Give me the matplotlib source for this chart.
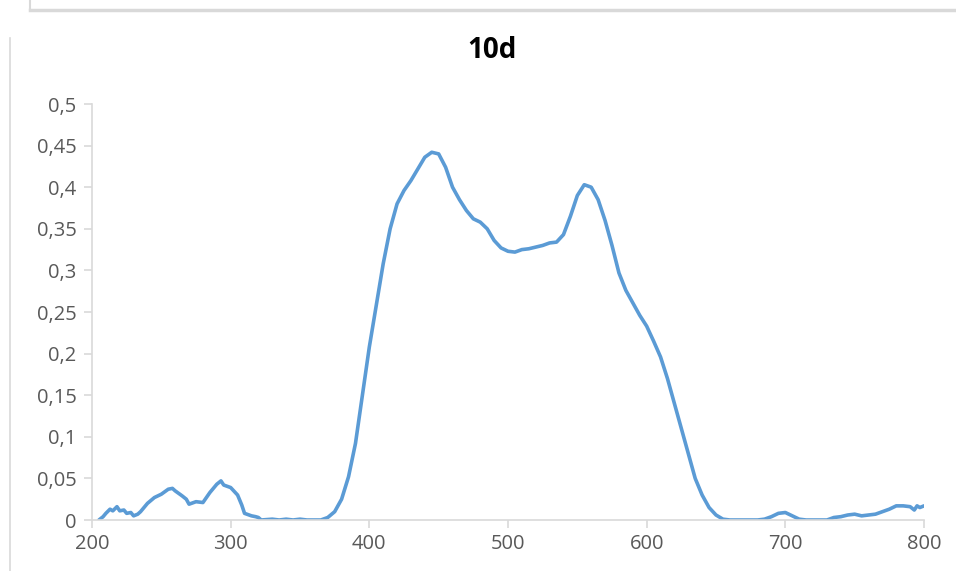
import numpy as np
import matplotlib
matplotlib.use('Agg')
import matplotlib.pyplot as plt
from matplotlib.lines import Line2D
from matplotlib.ticker import FuncFormatter

# Spectrum (wavelength, absorbance)
wavelength = [205, 208, 210, 213, 215, 218, 220, 223, 225, 228, 230, 233, 235, 240, 245, 250, 255,
              258, 260, 265, 268, 270, 275, 280, 285, 290, 293, 295, 300, 305, 308, 310, 315,
              318, 320, 322, 330, 335, 340, 345, 350, 355, 360, 365, 370, 375, 380, 385,
              390, 395, 400, 405, 410, 415, 420, 425, 430, 435, 440, 445, 450, 455, 460,
              465, 470, 475, 480, 485, 490, 495, 500, 505, 510, 515, 520, 525, 530, 535,
              540, 545, 550, 555, 560, 565, 570, 575, 580, 585, 590, 595, 600, 605, 610,
              615, 620, 625, 630, 635, 640, 645, 650, 655, 660, 670, 680, 685, 690, 695,
              700, 705, 710, 715, 720, 730, 735, 740, 745, 750, 755, 760, 765, 770, 775,
              780, 785, 790, 793, 795, 797, 800]
absorbance = [0.000, 0.004, 0.008, 0.013, 0.011, 0.016, 0.011, 0.012, 0.008, 0.009, 0.005, 0.007, 0.010,
              0.020, 0.027, 0.031, 0.037, 0.038, 0.035, 0.029, 0.025, 0.019, 0.022, 0.021, 0.033, 0.043, 0.047,
              0.042, 0.039, 0.030, 0.018, 0.008, 0.005, 0.004, 0.003, 0.000, 0.001, 0.000, 0.001, 0.000, 0.001,
              0.000, 0.000, 0.000, 0.003, 0.010, 0.025, 0.052, 0.092, 0.150, 0.208, 0.258, 0.308, 0.350,
              0.380, 0.396, 0.408, 0.422, 0.436, 0.442, 0.440, 0.424, 0.400, 0.385, 0.372, 0.362, 0.358,
              0.350, 0.336, 0.327, 0.323, 0.322, 0.325, 0.326, 0.328, 0.330, 0.333, 0.334, 0.343, 0.365,
              0.390, 0.403, 0.400, 0.385, 0.360, 0.330, 0.297, 0.276, 0.261, 0.246, 0.233, 0.215, 0.196,
              0.170, 0.140, 0.110, 0.080, 0.050, 0.030, 0.015, 0.006, 0.001, 0.000, 0.000, 0.000, 0.001,
              0.004, 0.008, 0.009, 0.005, 0.001, 0.000, 0.000, 0.000, 0.003, 0.004, 0.006, 0.007, 0.005,
              0.006, 0.007, 0.010, 0.013, 0.017, 0.017, 0.016, 0.012, 0.017, 0.015, 0.017]

x_ticks = [200, 300, 400, 500, 600, 700, 800]
y_ticks = [0, 0.05, 0.1, 0.15, 0.2, 0.25, 0.3, 0.35, 0.4, 0.45, 0.5]
title = '10d'

grey = '#D9D9D9'
text_grey = '#595959'

fig = plt.figure(figsize=(9.56, 5.71), dpi=100)
ax = fig.add_axes([92 / 956, 51 / 571, 832 / 956, 416 / 571])
ax.plot(wavelength, absorbance, color='#5B9BD5', lw=2.6, solid_capstyle='round',
        solid_joinstyle='round')

ax.set_xlim(200, 800)
ax.set_ylim(0, 0.5)
ax.set_xticks(x_ticks)
ax.set_yticks(y_ticks)
ax.yaxis.set_major_formatter(FuncFormatter(lambda v, p: ('%g' % round(v, 2)).replace('.', ',')))

for s in ['top', 'right']:
    ax.spines[s].set_visible(False)
for s in ['left', 'bottom']:
    ax.spines[s].set_color(grey)
    ax.spines[s].set_linewidth(1.2)
ax.tick_params(axis='both', colors=grey, length=6, width=1.2, direction='out',
               labelcolor=text_grey, labelsize=14.5)
ax.tick_params(axis='x', pad=4)
ax.tick_params(axis='y', pad=5)
for lab in ax.get_xticklabels() + ax.get_yticklabels():
    lab.set_family(['Open Sans', 'DejaVu Sans'])

fig.text(492 / 956, 1 - 50 / 571, title, ha='center', va='center', fontsize=20,
         fontweight='bold', family=['Open Sans', 'DejaVu Sans'])

# frame remnants from the source sheet
fig.add_artist(Line2D([10 / 956, 10 / 956], [0, 1 - 38 / 571], color=grey, lw=1.2))
fig.add_artist(Line2D([30 / 956, 1], [1 - 10 / 571, 1 - 10 / 571], color=grey, lw=2.5))
fig.add_artist(Line2D([30 / 956, 30 / 956], [1 - 10 / 571, 1], color=grey, lw=1.5))

plt.savefig('out.png', dpi=100)
